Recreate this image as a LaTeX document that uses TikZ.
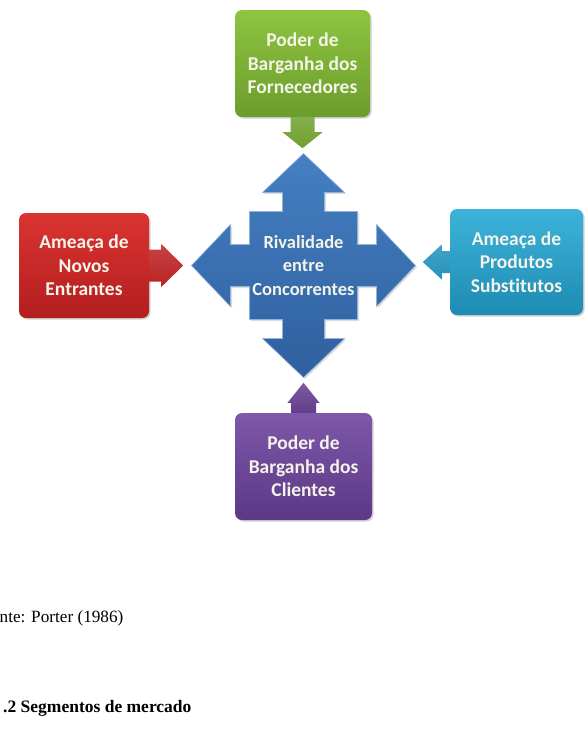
\documentclass[tikz,border=0pt]{standalone}
\usepackage{fontspec}
\setmainfont{Liberation Serif}
\newfontfamily\boxfont{Carlito}[Ligatures=NoCommon]
\usetikzlibrary{shadows}
\definecolor{gtop}{HTML}{8DC540}
\definecolor{gbot}{HTML}{6C9C2C}
\definecolor{rtop}{HTML}{DA3431}
\definecolor{rbot}{HTML}{B31E1F}
\definecolor{ctop}{HTML}{3DB3DA}
\definecolor{cbot}{HTML}{1E8BB3}
\definecolor{ptop}{HTML}{7F58A9}
\definecolor{pbot}{HTML}{5C3886}
\definecolor{btop}{HTML}{4580C2}
\definecolor{bbot}{HTML}{2F5F9F}
\definecolor{boxtext}{HTML}{F4F4EA}
\newcommand\blockarrow[7]{%
  \shade[top color=#7!85!white, bottom color=#7, shading angle=0, shift={(#1)}, rotate=#2]
    (0,-#4) -- (#3,-#4) -- (#3,-#6) -- ({#3+#5},0) -- (#3,#6) -- (#3,#4) -- (0,#4) -- cycle;}
\tikzset{
  force/.style={rectangle, rounded corners=7pt, minimum height=106pt, inner sep=0pt,
    align=center, text=boxtext, font=\boxfont\bfseries\fontsize{19.5}{23.5}\selectfont,
    drop shadow={shadow xshift=1.5pt, shadow yshift=-1.5pt, opacity=0.3, fill=black!60}},
  centertext/.style={align=center, text=boxtext, inner sep=0pt,
    font=\boxfont\bfseries\fontsize{18.5}{23.5}\selectfont},
  doctext/.style={anchor=base west, inner sep=0pt, font=\fontsize{17.2}{20}\selectfont}
}
\begin{document}
\begin{tikzpicture}[x=1pt, y=1pt]
\path[use as bounding box] (0,0) rectangle (585,-747);

% boxes
\node[force, minimum width=135pt, minimum height=107pt, top color=gtop, bottom color=gbot] (forn) at (302.5,-63.5) {Poder de\\Barganha dos\\Fornecedores};
\node[force, minimum width=130pt, minimum height=105pt, top color=rtop, bottom color=rbot] (novos) at (84,-265.5) {Ameaça de\\Novos\\Entrantes};
\node[force, minimum width=133pt, top color=ctop, bottom color=cbot] (subst) at (516.5,-262) {Ameaça de\\Produtos\\Substitutos};
\node[force, minimum width=137pt, minimum height=107pt, top color=ptop, bottom color=pbot] (cli) at (303.5,-466.5) {Poder de\\Barganha dos\\Clientes};

% central four-way arrow
\begin{scope}[shift={(303.5,-265.5)}]
\def\s{54}\def\w{21}\def\b{73}\def\h{41}\def\t{112}
\fill[black!45, opacity=0.3, shift={(1.5,-1.5)}]
  (0,\t) -- (\h,\b) -- (\w,\b) -- (\w,\s) -- (\s,\s) -- (\s,\w) -- (\b,\w) -- (\b,\h) -- (\t,0)
  -- (\b,-\h) -- (\b,-\w) -- (\s,-\w) -- (\s,-\s) -- (\w,-\s) -- (\w,-\b) -- (\h,-\b) -- (0,-\t)
  -- (-\h,-\b) -- (-\w,-\b) -- (-\w,-\s) -- (-\s,-\s) -- (-\s,-\w) -- (-\b,-\w) -- (-\b,-\h) -- (-\t,0)
  -- (-\b,\h) -- (-\b,\w) -- (-\s,\w) -- (-\s,\s) -- (-\w,\s) -- (-\w,\b) -- (-\h,\b) -- cycle;
\shade[top color=btop, bottom color=bbot, draw=btop!60!white, line width=0.6pt]
  (0,\t) -- (\h,\b) -- (\w,\b) -- (\w,\s) -- (\s,\s) -- (\s,\w) -- (\b,\w) -- (\b,\h) -- (\t,0)
  -- (\b,-\h) -- (\b,-\w) -- (\s,-\w) -- (\s,-\s) -- (\w,-\s) -- (\w,-\b) -- (\h,-\b) -- (0,-\t)
  -- (-\h,-\b) -- (-\w,-\b) -- (-\w,-\s) -- (-\s,-\s) -- (-\s,-\w) -- (-\b,-\w) -- (-\b,-\h) -- (-\t,0)
  -- (-\b,\h) -- (-\b,\w) -- (-\s,\w) -- (-\s,\s) -- (-\w,\s) -- (-\w,\b) -- (-\h,\b) -- cycle;
\end{scope}
\node[centertext] (rival) at (303.5,-265.5) {Rivalidade\\entre\\Concorrentes};

% small arrows
\blockarrow{forn.south}{-90}{15}{12}{16}{20}{gbot!90!gtop}
\blockarrow{novos.east}{0}{12}{16}{22}{21.5}{rbot!80!rtop}
\blockarrow{subst.west}{180}{8}{11}{19}{17.5}{cbot!80!ctop}
\blockarrow{cli.north}{90}{10}{12.5}{20}{16}{pbot!80!ptop}

% document text
\node[doctext] (fonte) at (-0.5,-622) {nte: Porter (1986)};
\node[doctext, font=\bfseries\fontsize{17.5}{20}\selectfont] (secao) at (3,-712) {.2 Segmentos de mercado};
\end{tikzpicture}
\end{document}
